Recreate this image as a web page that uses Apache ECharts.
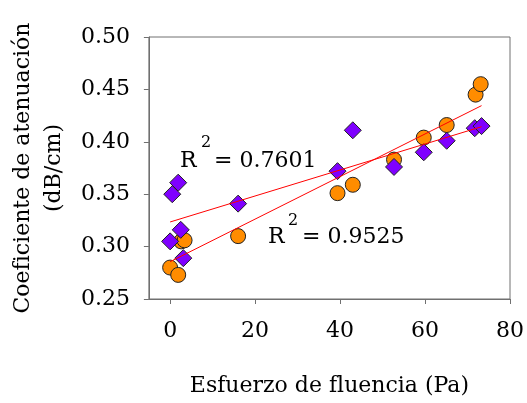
<!DOCTYPE html>
<html lang="es">
<head>
    <meta charset="UTF-8">
    <title></title>
    <script type="text/javascript" src="https://cdn.jsdelivr.net/npm/echarts@6/dist/echarts.min.js"></script>
    <style>
        html, body { margin: 0; padding: 0; background: #fff; }
    </style>
</head>
<body>
<div id="main" style="width: 527px;height:403px;"></div>
<script type="text/javascript">
// orange circles
var orangeX = [0.0, 1.9, 2.6, 3.4, 16.0, 39.4, 43.0, 52.7, 59.7, 65.1, 71.9, 73.1];
var orangeY = [0.280, 0.273, 0.305, 0.306, 0.310, 0.351, 0.359, 0.383, 0.404, 0.416, 0.445, 0.455];
// purple diamonds
var purpleX = [0.0, 0.5, 1.9, 2.5, 3.1, 16.0, 39.4, 43.0, 52.7, 59.7, 65.1, 71.7, 73.3];
var purpleY = [0.305, 0.350, 0.361, 0.316, 0.289, 0.341, 0.372, 0.411, 0.376, 0.390, 0.401, 0.413, 0.415];
// trend lines (end points)
var orangeFitX = [0, 73.3];
var orangeFitY = [0.2856, 0.4345];
var purpleFitX = [0, 73.3];
var purpleFitY = [0.3235, 0.4144];
var xTicks = [0, 20, 40, 60, 80];

function pairs(xs, ys) {
    return xs.map(function (x, i) { return [x, ys[i]]; });
}

var font = 'DejaVu Serif';
var axisColor = '#707070';

var myChart = echarts.init(document.getElementById('main'));
var option = {
    animation: false,
    grid: {
        left: 145, right: 17, top: 37, bottom: 104,
        show: true, borderColor: axisColor, borderWidth: 1
    },
    xAxis: {
        type: 'value',
        min: -5,
        max: 80,
        name: 'Esfuerzo de fluencia (Pa)',
        nameLocation: 'middle',
        nameGap: 76,
        nameTextStyle: { fontFamily: font, fontSize: 22, color: '#000' },
        axisLine: { onZero: false, lineStyle: { color: axisColor } },
        axisTick: { inside: false, length: 5, customValues: xTicks, lineStyle: { color: axisColor } },
        axisLabel: { customValues: xTicks, margin: 21, fontFamily: font, fontSize: 22, color: '#000' },
        splitLine: { show: false }
    },
    yAxis: {
        type: 'value',
        min: 0.25,
        max: 0.50,
        interval: 0.05,
        name: 'Coeficiente de atenuación\n(dB/cm)',
        nameLocation: 'middle',
        nameGap: 78,
        nameTextStyle: { fontFamily: font, fontSize: 22, lineHeight: 31, color: '#000' },
        axisLine: { onZero: false, lineStyle: { color: axisColor } },
        axisTick: { inside: false, length: 5, lineStyle: { color: axisColor } },
        axisLabel: {
            margin: 19, fontFamily: font, fontSize: 22, color: '#000',
            formatter: function (v) { return v.toFixed(2); }
        },
        splitLine: { show: false }
    },
    series: [
        {
            type: 'scatter',
            symbol: 'circle',
            symbolSize: 15,
            itemStyle: { color: '#FF8C00', borderColor: '#222', borderWidth: 1, opacity: 1 },
            data: pairs(orangeX, orangeY),
            z: 2
        },
        {
            type: 'scatter',
            symbol: 'diamond',
            symbolSize: [17, 17],
            itemStyle: { color: '#7F00FF', borderColor: '#222', borderWidth: 1, opacity: 1 },
            data: pairs(purpleX, purpleY),
            z: 3
        },
        {
            type: 'line',
            showSymbol: false,
            symbol: 'none',
            lineStyle: { color: '#FF0000', width: 1 },
            data: pairs(orangeFitX, orangeFitY),
            z: 4
        },
        {
            type: 'line',
            showSymbol: false,
            symbol: 'none',
            lineStyle: { color: '#FF0000', width: 1 },
            data: pairs(purpleFitX, purpleFitY),
            z: 4
        }
    ],
    graphic: [
        { type: 'text', left: 180, top: 150, style: { text: 'R', font: '22px "DejaVu Serif"', fill: '#000' } },
        { type: 'text', left: 201, top: 135, style: { text: '2', font: '16px "DejaVu Serif"', fill: '#000' } },
        { type: 'text', left: 214, top: 150, style: { text: '= 0.7601', font: '22px "DejaVu Serif"', fill: '#000' } },
        { type: 'text', left: 268, top: 226, style: { text: 'R', font: '22px "DejaVu Serif"', fill: '#000' } },
        { type: 'text', left: 288, top: 213, style: { text: '2', font: '16px "DejaVu Serif"', fill: '#000' } },
        { type: 'text', left: 302, top: 226, style: { text: '= 0.9525', font: '22px "DejaVu Serif"', fill: '#000' } }
    ]
};
myChart.setOption(option);
</script>
</body>
</html>
